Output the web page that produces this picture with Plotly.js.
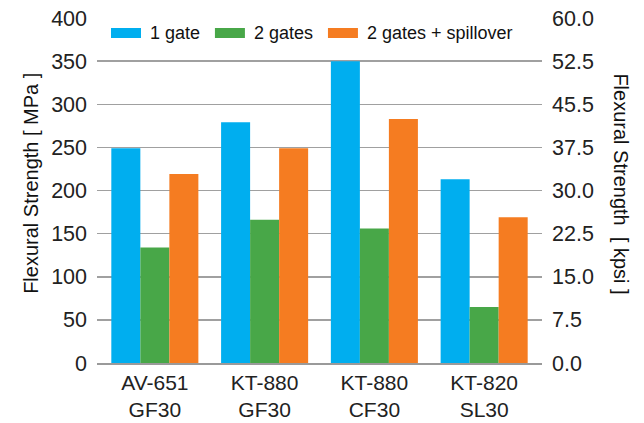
<!DOCTYPE html>
<html>
<head>
<meta charset="utf-8">
<script src="https://cdn.plot.ly/plotly-3.0.1.min.js"></script>
<style>html,body{margin:0;padding:0;background:#fff;}#chart{width:644px;height:423px;}</style>
</head>
<body>
<div id="chart"></div>
<script>
// ---- data ----
var categories = ["AV-651<br>GF30", "KT-880<br>GF30", "KT-880<br>CF30", "KT-820<br>SL30"];
var seriesNames = ["1 gate", "2 gates", "2 gates + spillover"];
var oneGate = [249, 279, 350, 213];
var twoGates = [134, 166, 156, 65];
var twoGatesSpill = [219, 249, 283, 169];
var leftTicks = [0, 50, 100, 150, 200, 250, 300, 350, 400];
var rightTickVals = [0, 7.5, 15, 22.5, 30, 37.5, 45, 52.5, 60];
var rightTickText = ["0.0", "7.5", "15.0", "22.5", "30.0", "37.5", "45.5", "52.5", "60.0"];
var colors = ["#00AEEF", "#48A748", "#F57C21"];

var FONT = "Liberation Sans, Arial, Helvetica, sans-serif";
var allSeries = [oneGate, twoGates, twoGatesSpill];

var traces = allSeries.map(function (vals, i) {
  return {
    type: "bar",
    x: categories,
    y: vals,
    name: seriesNames[i],
    marker: { color: colors[i], line: { width: 0 } },
    hoverinfo: "skip"
  };
});
// invisible trace to activate the right axis
traces.push({ type: "scatter", x: [categories[0]], y: [0], yaxis: "y2", mode: "markers",
  marker: { opacity: 0 }, showlegend: false, hoverinfo: "skip" });

// custom legend (wide swatches)
var legX = [0.0315, 0.265, 0.519];
var shapes = [], annotations = [];
seriesNames.forEach(function (n, i) {
  shapes.push({ type: "rect", xref: "paper", yref: "paper",
    x0: legX[i], x1: legX[i] + 0.0674, y0: 0.942, y1: 0.971,
    fillcolor: colors[i], line: { width: 0 } });
  annotations.push({ xref: "paper", yref: "paper", x: legX[i] + 0.083, y: 0.9565,
    xanchor: "left", yanchor: "middle", showarrow: false, text: n,
    font: { family: FONT, size: 18, color: "#111" } });
});
annotations.push({ xref: "paper", yref: "paper", x: -0.15, y: 0.52, xanchor: "center", yanchor: "middle",
  showarrow: false, textangle: -90, text: "Flexural Strength [ MPa ]",
  font: { family: FONT, size: 20, color: "#111" } });
annotations.push({ xref: "paper", yref: "paper", x: 1.178, y: 0.52, xanchor: "center", yanchor: "middle",
  showarrow: false, textangle: 90, text: "Flexural Strength \u00A0[ kpsi ]",
  font: { family: FONT, size: 20, color: "#111" } });

var layout = {
  width: 644, height: 423,
  margin: { l: 97, r: 102, t: 18, b: 60 },
  paper_bgcolor: "#fff", plot_bgcolor: "#fff",
  showlegend: false,
  barmode: "group",
  bargap: 0.207, bargroupgap: 0,
  font: { family: FONT, size: 22, color: "#222" },
  xaxis: {
    type: "category", range: [-0.527, 3.527],
    showgrid: false, showline: true, linecolor: "#9a9a9a", linewidth: 1.5,
    ticks: "", ticklabelstandoff: 0, zeroline: false,
    tickfont: { family: FONT, size: 21, color: "#222" }
  },
  yaxis: {
    range: [0, 400], tickvals: leftTicks, ticktext: leftTicks.map(String),
    showgrid: true, gridcolor: "#a0a0a0", gridwidth: 1.5, zeroline: false,
    ticks: "", ticklabelstandoff: 9,
    tickfont: { family: FONT, size: 21.5, color: "#222" }
  },
  yaxis2: {
    overlaying: "y", side: "right", range: [0, 60],
    tickvals: rightTickVals, ticktext: rightTickText,
    showgrid: false, zeroline: false, ticks: "", ticklabelstandoff: 9,
    tickfont: { family: FONT, size: 21.5, color: "#222" }
  },
  shapes: shapes,
  annotations: annotations
};

Plotly.newPlot("chart", traces, layout, { displayModeBar: false, staticPlot: true });
</script>
</body>
</html>
